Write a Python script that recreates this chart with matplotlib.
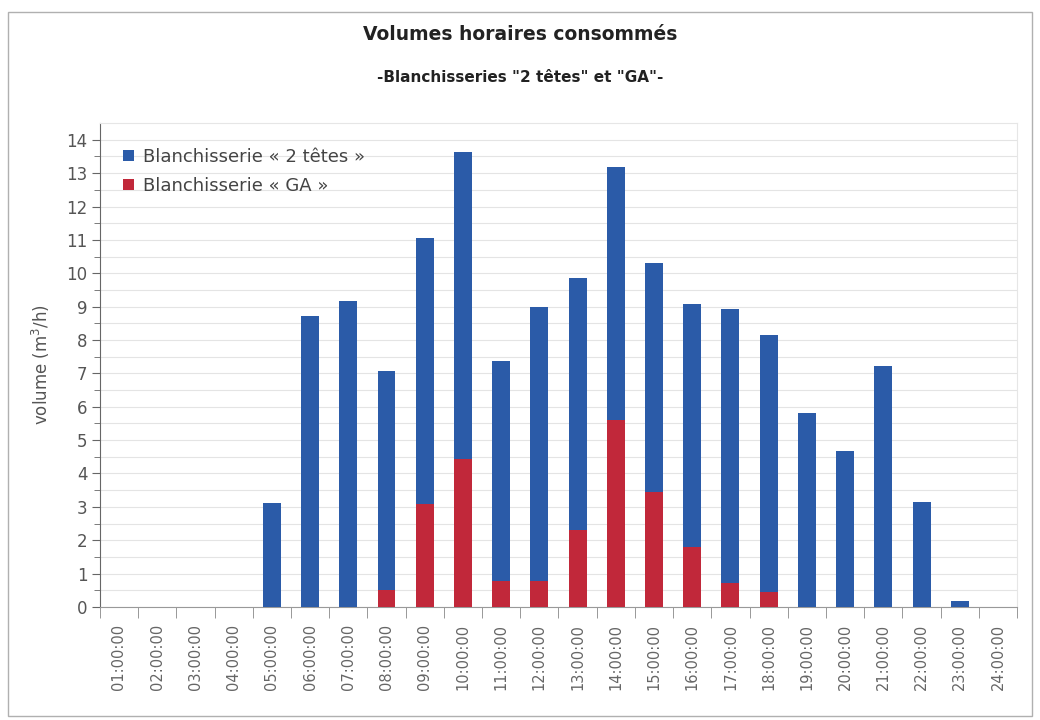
import matplotlib
matplotlib.use("Agg")
import matplotlib.pyplot as plt
from matplotlib.patches import Rectangle
import numpy as np

# Hourly volumes (m3/h)
hours = ["01:00:00", "02:00:00", "03:00:00", "04:00:00", "05:00:00", "06:00:00",
         "07:00:00", "08:00:00", "09:00:00", "10:00:00", "11:00:00", "12:00:00",
         "13:00:00", "14:00:00", "15:00:00", "16:00:00", "17:00:00", "18:00:00",
         "19:00:00", "20:00:00", "21:00:00", "22:00:00", "23:00:00", "24:00:00"]
deux_tetes = [0, 0, 0, 0, 3.12, 8.73, 9.18, 7.07, 11.06, 13.63, 7.37, 8.98,
              9.85, 13.18, 10.3, 9.08, 8.93, 8.14, 5.8, 4.66, 7.22, 3.15, 0.18, 0]
ga = [0, 0, 0, 0, 0, 0, 0, 0.5, 3.08, 4.42, 0.79, 0.78,
      2.31, 5.6, 3.46, 1.8, 0.72, 0.46, 0, 0, 0, 0, 0, 0]
yticks = list(range(0, 15))

blue = "#2b5ba8"
red = "#c1283a"
txt = "#555555"

fig = plt.figure(figsize=(10.4, 7.2), dpi=100)
fig.patch.set_facecolor("white")

# Outer chart frame
fig.patches.append(Rectangle((0.008, 0.006), 0.984, 0.977, transform=fig.transFigure,
                             fill=False, edgecolor="#b0b0b0", linewidth=1.0))

ax = fig.add_axes([0.096, 0.157, 0.882, 0.672])
x = np.arange(len(hours))
w = 0.47
ax.bar(x, deux_tetes, width=w, color=blue, label="Blanchisserie « 2 têtes »", zorder=3)
ax.bar(x, ga, width=w, color=red, label="Blanchisserie « GA »", zorder=4)

ax.set_xlim(-0.5, len(hours) - 0.5)
ax.set_ylim(0, 14.5)

ax.set_yticks(yticks)
ax.set_yticks(np.arange(0.5, 14.5, 1.0), minor=True)
ax.yaxis.grid(True, which="both", color="#e4e4e4", linewidth=0.8, zorder=0)
ax.tick_params(axis="y", which="major", direction="out", length=6, color="#666666",
               labelsize=12, labelcolor=txt, pad=3)
ax.tick_params(axis="y", which="minor", direction="out", length=4, color="#666666")

ax.set_xticks(x)
ax.set_xticklabels(hours, rotation=90)
ax.set_xticks(np.arange(-0.5, len(hours), 1.0), minor=True)
ax.tick_params(axis="x", which="major", length=0, labelsize=10.5, labelcolor="#666666", pad=12)
ax.tick_params(axis="x", which="minor", direction="out", length=8, color="#888888")

for s in ["top", "right"]:
    ax.spines[s].set_color("#e6e6e6")
ax.spines["left"].set_color("#666666")
ax.spines["bottom"].set_color("#999999")

ax.set_ylabel("volume (m$^3$/h)", fontsize=12, color=txt, labelpad=10)

leg = ax.legend(loc="upper left", bbox_to_anchor=(0.012, 0.975), frameon=False,
                fontsize=13, handlelength=0.6, handleheight=0.6, handletextpad=0.5,
                labelspacing=0.6, borderaxespad=0.3)
for t in leg.get_texts():
    t.set_color("#444444")

fig.text(0.5, 0.952, "Volumes horaires consommés", ha="center", va="center",
         fontsize=13.5, fontweight="bold", color="#222222")
fig.text(0.5, 0.893, '-Blanchisseries "2 têtes" et "GA"-', ha="center", va="center",
         fontsize=11, fontweight="bold", color="#222222")

fig.savefig("out.png", dpi=100, facecolor="white")
